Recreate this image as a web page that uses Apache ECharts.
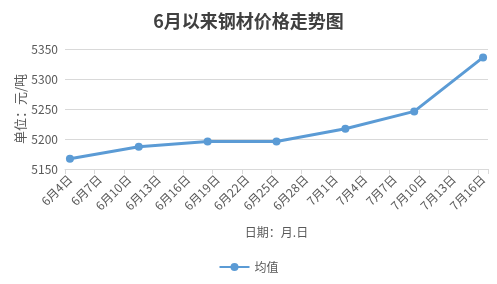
<!DOCTYPE html>
<html><head><meta charset="utf-8">
<script src="https://cdn.jsdelivr.net/npm/echarts@6/dist/echarts.min.js"></script>
<style>html,body{margin:0;padding:0;background:#fff}#c{width:497px;height:284px}</style>
</head><body><div id="c"></div>
<script>
const title = '6月以来钢材价格走势图';
const seriesName = '均值';
const yAxisName = '单位：元/吨';
const xAxisName = '日期：月.日';
// weekly observations (month, day)
const obsDates = [[6,4],[6,11],[6,18],[6,25],[7,2],[7,9],[7,16]];
const obsValues = [5167, 5187, 5196, 5196, 5217, 5246, 5336];
const yTicks = [5150, 5200, 5250, 5300, 5350];

// daily category axis from first to last observation
const start = new Date(2021, obsDates[0][0]-1, obsDates[0][1]);
const end = new Date(2021, obsDates[obsDates.length-1][0]-1, obsDates[obsDates.length-1][1]);
const days = [];
for (let d = new Date(start); d <= end; d.setDate(d.getDate()+1)) {
  days.push((d.getMonth()+1) + '月' + d.getDate() + '日');
}
const dataMap = {};
obsDates.forEach((md, i) => { dataMap[md[0] + '月' + md[1] + '日'] = obsValues[i]; });
const lineData = days.map(d => (d in dataMap ? dataMap[d] : null));

const chart = echarts.init(document.getElementById('c'));
const font = '"Microsoft YaHei","Noto Sans CJK SC",sans-serif';
chart.setOption({
  animation: false,
  textStyle: { fontFamily: font },
  title: { text: title, left: 'center', top: 7,
    textStyle: { fontSize: 18, fontWeight: 'bold', color: '#404040', fontFamily: font } },
  grid: { left: 65, right: 9, top: 49, bottom: 115 },
  legend: { bottom: 6, left: 'center', itemWidth: 30, itemHeight: 10,
    textStyle: { fontSize: 12, color: '#595959', fontFamily: font },
    data: [seriesName] },
  xAxis: {
    type: 'category', data: days, boundaryGap: true,
    name: xAxisName, nameLocation: 'middle', nameGap: 57, nameMoveOverlap: false,
    nameTextStyle: { fontSize: 12, color: '#595959', fontFamily: font },
    axisLine: { lineStyle: { color: '#D9D9D9', width: 1 } },
    axisTick: { show: true, interval: 2, length: 5, lineStyle: { color: '#D9D9D9' } },
    axisLabel: { interval: 2, rotate: 45, fontSize: 12, color: '#595959', margin: 8, fontFamily: font },
    splitLine: { show: false }
  },
  yAxis: {
    type: 'value', min: yTicks[0], max: yTicks[yTicks.length-1], interval: 50,
    name: yAxisName, nameLocation: 'middle', nameGap: 38, nameRotate: 90, nameMoveOverlap: false,
    nameTextStyle: { fontSize: 13, color: '#595959', fontFamily: font },
    axisLine: { show: false }, axisTick: { show: false },
    axisLabel: { fontSize: 12, color: '#595959', margin: 7, fontFamily: font,
      formatter: v => String(v) },
    splitLine: { lineStyle: { color: '#D9D9D9', width: 1 } }
  },
  series: [{
    name: seriesName, type: 'line', data: lineData, connectNulls: true,
    symbol: 'circle', symbolSize: 8, showSymbol: true, showAllSymbol: true,
    lineStyle: { color: '#5B9BD5', width: 3 },
    itemStyle: { color: '#5B9BD5' }
  }]
});
</script></body></html>
